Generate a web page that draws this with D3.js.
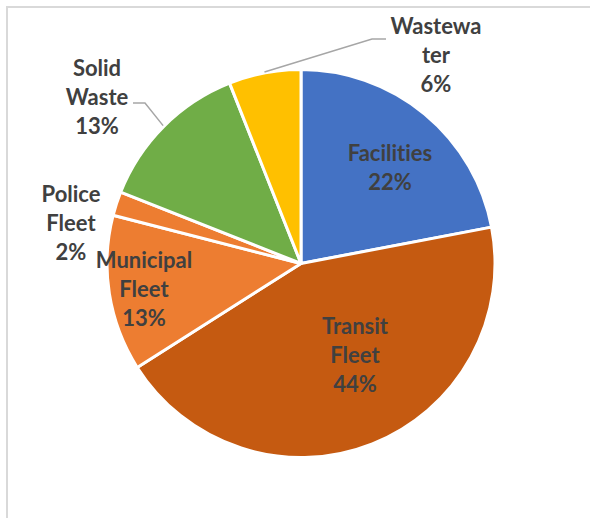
<!DOCTYPE html>
<html>
<head>
<meta charset="utf-8">
<script src="https://cdn.jsdelivr.net/npm/d3@7"></script>
<style>
  html, body { margin: 0; padding: 0; background: #fff; }
  svg { display: block; }
  .lbl { font-family: Lato, "Open Sans", sans-serif; font-weight: 700; fill: #404040;
         font-variant-ligatures: none; font-feature-settings: "liga" 0; }
</style>
</head>
<body>
<svg id="chart" width="590" height="518"></svg>
<script>
// Emissions share by sector (percent)
const categories = ["Facilities", "Transit Fleet", "Municipal Fleet", "Police Fleet", "Solid Waste", "Wastewater"];
const values = [22, 44, 13, 2, 13, 6];
// Wrapped label lines as they appear next to each slice
const labelLines = [
  ["Facilities"],
  ["Transit", "Fleet"],
  ["Municipal", "Fleet"],
  ["Police", "Fleet"],
  ["Solid", "Waste"],
  ["Wastewa", "ter"]
];

const colors = ["#4472C4", "#C55A11", "#ED7D31", "#ED7D31", "#70AD47", "#FFC000"];

// Layout: pie geometry and label anchors (offsets from pie centre, first-line baseline)
const W = 590, H = 518;
const cx = 301, cy = 263.5, R = 194;
const lineGap = 29;
const fontSize = 22;
const labelAnchor = {
  "Facilities":      [89, -103],
  "Transit Fleet":   [54, 70],
  "Municipal Fleet": [-157, 4],
  "Police Fleet":    [-230, -62],
  "Solid Waste":     [-204, -188],
  "Wastewater":      [135, -230]
};
// Leader lines for labels placed outside: elbow and end point (offsets from centre)
const leaders = {
  "Wastewater":  [[71, -224.5], [85, -224.5]],
  "Solid Waste": [[-156, -160.5], [-168, -160.5]]
};

const svg = d3.select("#chart");

// Chart area frame
svg.append("path")
  .attr("d", `M7,${H + 5} V7 H${W + 5}`)
  .attr("fill", "none")
  .attr("stroke", "#d9d9d9")
  .attr("stroke-width", 2);

const data = categories.map((c, i) => ({ cat: c, value: values[i], lines: labelLines[i], color: colors[i] }));

const pie = d3.pie().value(d => d.value).sort(null).startAngle(0).endAngle(2 * Math.PI);
const arcs = pie(data);
const arc = d3.arc().innerRadius(0).outerRadius(R);

const g = svg.append("g").attr("transform", `translate(${cx},${cy})`);

g.selectAll("path.slice")
  .data(arcs)
  .join("path")
  .attr("class", "slice")
  .attr("d", arc)
  .attr("fill", d => d.data.color)
  .attr("stroke", "#fff")
  .attr("stroke-width", 3)
  .attr("stroke-linejoin", "round");

// Leader lines from slice edge at its mid-angle
const line = d3.line();
arcs.forEach(a => {
  const l = leaders[a.data.cat];
  if (!l) return;
  const mid = (a.startAngle + a.endAngle) / 2;
  const start = [Math.sin(mid) * (R + 1), -Math.cos(mid) * (R + 1)];
  g.append("path")
    .attr("d", line([start, l[0], l[1]]))
    .attr("fill", "none")
    .attr("stroke", "#a6a6a6")
    .attr("stroke-width", 1.5);
});

// Data labels: category lines plus percentage
const fmt = d3.format(".0%");
const total = d3.sum(values);
arcs.forEach(a => {
  const [dx, dy] = labelAnchor[a.data.cat];
  const t = g.append("text")
    .attr("class", "lbl")
    .attr("text-anchor", "middle")
    .attr("font-size", fontSize)
    .attr("x", dx)
    .attr("y", dy);
  const rows = a.data.lines.concat([fmt(a.data.value / total)]);
  rows.forEach((r, i) => {
    t.append("tspan").attr("x", dx).attr("y", dy + i * lineGap).text(r);
  });
});
</script>
</body>
</html>
